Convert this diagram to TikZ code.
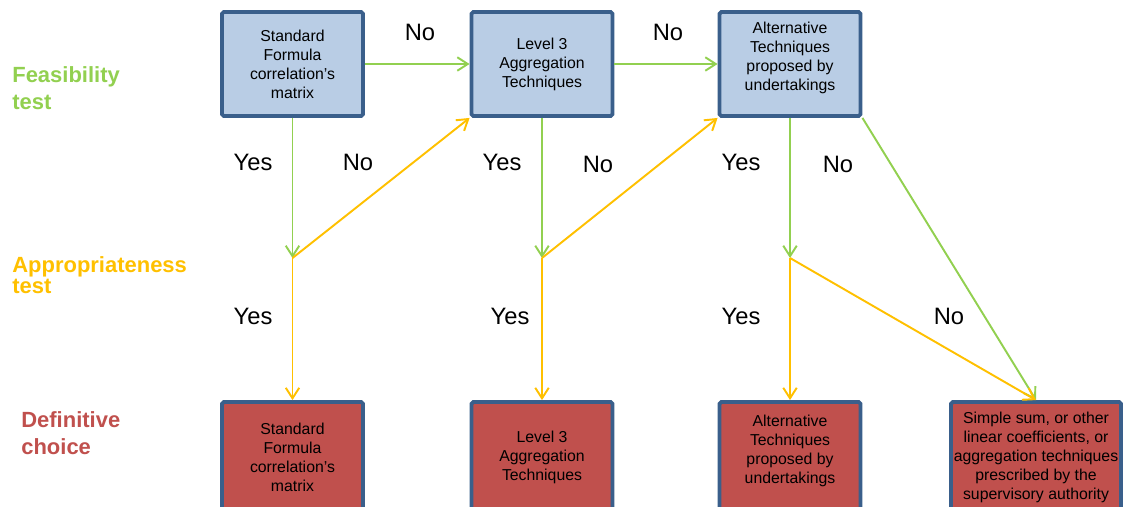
\documentclass[tikz,border=0pt]{standalone}
\usepackage{fontspec}
\setmainfont{Liberation Sans}
\usetikzlibrary{arrows.meta}

\definecolor{boxblue}{HTML}{B9CDE5}
\definecolor{boxred}{HTML}{C0504D}
\definecolor{edgeblue}{HTML}{3A5F8B}
\definecolor{feasgreen}{HTML}{92D050}
\definecolor{appyellow}{HTML}{FFC000}

\begin{document}
\begin{tikzpicture}[
  box/.style={draw=edgeblue,line width=2.2pt,rounded corners=1pt,minimum width=2.82cm,minimum height=2.08cm,inner sep=0pt,align=center,font=\fontsize{9}{10.8}\selectfont},
  feas/.style={box,fill=boxblue},
  defi/.style={box,fill=boxred,minimum height=2.2cm},
  ans/.style={font=\fontsize{13.5}{16}\selectfont},
  rowlabel/.style={anchor=west,align=left,inner sep=0pt,font=\fontsize{12.5}{15.4}\selectfont\bfseries},
  tip/.style={-{Straight Barb[length=2.1mm,width=2.7mm]}},
  gline/.style={tip,draw=feasgreen,line width=1.1pt},
  yline/.style={tip,draw=appyellow,line width=1.1pt}]
\useasboundingbox (0,0) rectangle (22.46,10.12);

%row labels on the left
\node[rowlabel,text=feasgreen] (lf) at (0.24,8.35) {Feasibility\\test};
\node[rowlabel,text=appyellow,font=\fontsize{12.5}{12}\selectfont\bfseries] (la) at (0.24,4.61) {Appropriateness\\test};
\node[rowlabel,text=boxred] (ld) at (0.42,1.45) {Definitive\\choice};

%feasibility boxes on top
\node[feas] (f1) at (5.85,8.84) {Standard\\Formula\\correlation’s\\matrix};
\node[feas] (f2) at (10.84,8.84) {Level 3\\Aggregation\\Techniques};
\node[feas] (f3) at (15.8,8.84) {Alternative\\Techniques\\proposed by\\undertakings\\[-1.5pt]\mbox{}};

%appropriateness points
\coordinate (a1) at (5.85,4.96);
\coordinate (a2) at (10.84,4.96);
\coordinate (a3) at (15.8,4.96);

%definitive boxes at the bottom
\node[defi] (d1) at (5.85,0.98) {Standard\\Formula\\correlation’s\\matrix};
\node[defi] (d2) at (10.84,0.98) {Level 3\\Aggregation\\Techniques};
\node[defi] (d3) at (15.8,0.98) {Alternative\\Techniques\\proposed by\\undertakings\\[-1.5pt]\mbox{}};
\node[defi,minimum width=3.4cm] (d4) at (20.72,0.98) {Simple sum, or other\\linear coefficients, or\\aggregation techniques\\prescribed by the\\supervisory authority};

\draw[gline] (f1) -- (f2);
\draw[gline] (f2) -- (f3);
\draw[gline] (f1) -- (a1);
\draw[gline] (f2) -- (a2);
\draw[gline] (f3) -- (a3);
\draw[gline] (f3.south east) -- (d4.north);

\draw[yline] (a1) -- (f2.south west);
\draw[yline] (a2) -- (f3.south west);
\draw[yline] (a1) -- (d1);
\draw[yline] (a2) -- (d2);
\draw[yline] (a3) -- (d3);
\draw[yline] (a3) -- (d4.north);

\node[ans] (n1) at (8.4,9.48) {No};
\node[ans] (n2) at (13.36,9.48) {No};
\node[ans] (y1) at (5.06,6.88) {Yes};
\node[ans] (n3) at (7.16,6.88) {No};
\node[ans] (y2) at (10.04,6.88) {Yes};
\node[ans] (n4) at (11.96,6.84) {No};
\node[ans] (y3) at (14.82,6.88) {Yes};
\node[ans] (n5) at (16.76,6.84) {No};
\node[ans] (y4) at (5.06,3.8) {Yes};
\node[ans] (y5) at (10.2,3.8) {Yes};
\node[ans] (y6) at (14.82,3.8) {Yes};
\node[ans] (n6) at (18.98,3.8) {No};

\end{tikzpicture}
\end{document}
